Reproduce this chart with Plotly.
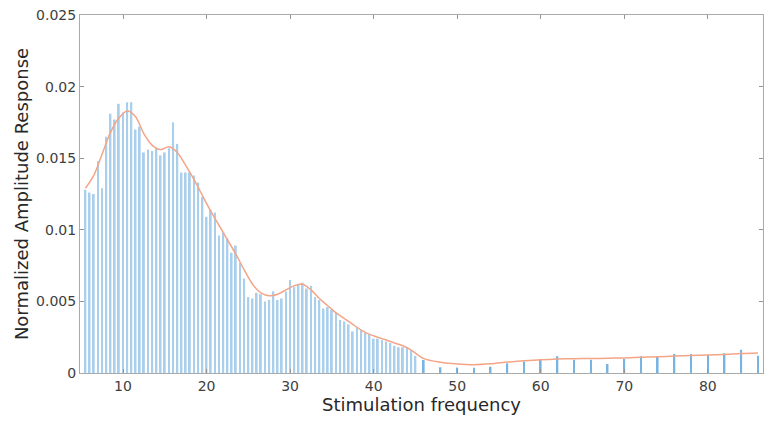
import plotly.graph_objects as go

# Dense bars: 5.5 .. 45 in 0.5 steps
dense_freq = [5.5 + 0.5 * i for i in range(80)]
dense_amp = [
    0.0128, 0.0126, 0.0125, 0.0148, 0.0129, 0.0165, 0.0181, 0.0177, 0.0188, 0.0182,
    0.0189, 0.0189, 0.0170, 0.0172, 0.0154, 0.0156, 0.0155, 0.0157, 0.0152, 0.0154,
    0.0157, 0.0175, 0.0160, 0.0140, 0.0140, 0.0140, 0.0138, 0.0133, 0.0123, 0.0109,
    0.0114, 0.0112, 0.0096, 0.0098, 0.0094, 0.0084, 0.0089, 0.0077, 0.0066, 0.0053,
    0.0052, 0.0056, 0.0055, 0.0050, 0.0051, 0.0057, 0.0051, 0.0052, 0.0057, 0.0065,
    0.0060, 0.0062, 0.0063, 0.0059, 0.0061, 0.0053, 0.0051, 0.0045, 0.0046, 0.0044,
    0.0042, 0.0037, 0.0036, 0.0034, 0.0029, 0.0032, 0.0030, 0.0028, 0.0027, 0.0024,
    0.0024, 0.0023, 0.0022, 0.0021, 0.0019, 0.0018, 0.0018, 0.0018, 0.0016, 0.0012,
]
# Sparse bars: 46 .. 86 in 2 steps
sparse_freq = [46 + 2 * i for i in range(21)]
sparse_amp = [
    0.00091, 0.00040, 0.00038, 0.00036, 0.00044, 0.00068, 0.00080, 0.00098, 0.00117, 0.00092,
    0.00092, 0.00063, 0.00098, 0.00117, 0.00117, 0.00133, 0.00133, 0.00128, 0.00138, 0.00162,
    0.00121,
]

# Smoothed fit curve
fit_freq = [5.5, 6.5, 7.5, 8.5, 9.5, 10.5, 11.5, 12.5, 13.5, 14.5, 15.5, 16.5, 17.5,
            18.5, 19.5, 20.5, 21.5, 22.5, 23.5, 24.5, 25.5, 26.5, 27.5, 28.5, 29.5,
            30.5, 31.5, 32.5, 33.5, 34.5, 35.5, 36.5, 37.5, 38.5, 39.5, 40.5, 41.5,
            42.5, 43.5, 44.5, 46, 48, 50, 52, 54, 56, 58, 60, 62, 64, 66, 68, 70, 72,
            74, 76, 78, 80, 82, 84, 86]
fit_amp = [0.0129, 0.0138, 0.0153, 0.0168, 0.0178, 0.0183, 0.0179, 0.0167, 0.0159,
           0.0156, 0.0158, 0.0154, 0.0145, 0.0135, 0.0124, 0.0113, 0.0103, 0.0093,
           0.0083, 0.0072, 0.0062, 0.0056, 0.0054, 0.0055, 0.0058, 0.0061, 0.0062,
           0.0058, 0.0052, 0.0047, 0.0042, 0.0038, 0.0034, 0.0030, 0.0027, 0.0025,
           0.0023, 0.0021, 0.0019, 0.0016, 0.0010, 0.00075, 0.00063, 0.00058, 0.00064,
           0.00076, 0.00086, 0.00092, 0.00097, 0.00100, 0.00101, 0.00103, 0.00105,
           0.00110, 0.00114, 0.00118, 0.00122, 0.00126, 0.00130, 0.00136, 0.00140]

x_ticks = [10, 20, 30, 40, 50, 60, 70, 80]
y_ticks = [0, 0.005, 0.01, 0.015, 0.02, 0.025]
y_tick_text = ["0", "0.005", "0.01", "0.015", "0.02", "0.025"]

dense_color = "rgb(170,207,236)"
sparse_color = "rgb(120,180,225)"

fig = go.Figure()
fig.add_trace(go.Bar(x=dense_freq, y=dense_amp, width=0.22,
                     marker=dict(color=dense_color, line=dict(width=0))))
fig.add_trace(go.Bar(x=sparse_freq, y=sparse_amp, width=0.2,
                     marker=dict(color=sparse_color, line=dict(width=0))))
fig.add_trace(go.Scatter(x=fit_freq, y=fit_amp, mode="lines",
                         line=dict(color="rgb(244,165,135)", width=1.5, shape="spline",
                                   smoothing=0.8)))

axis_common = dict(
    showline=True, linecolor="rgb(170,170,170)", linewidth=1,
    mirror="ticks", ticks="inside", ticklen=4, tickcolor="rgb(150,150,150)",
    showgrid=False, zeroline=False, automargin=False,
    tickfont=dict(family="DejaVu Sans", size=14, color="rgb(64,64,64)"),
)

fig.update_layout(
    width=766, height=421,
    margin=dict(l=80, r=3, t=15, b=48),
    paper_bgcolor="white", plot_bgcolor="white",
    showlegend=False, barmode="overlay",
    xaxis=dict(range=[4.85, 86.6], tickvals=x_ticks,
               title=dict(text="Stimulation frequency", standoff=4,
                          font=dict(family="DejaVu Sans", size=18, color="rgb(40,40,40)")),
               **axis_common),
    yaxis=dict(range=[0, 0.025], tickvals=y_ticks, ticktext=y_tick_text,
               title=dict(text="Normalized Amplitude Response", standoff=2,
                          font=dict(family="DejaVu Sans", size=18, color="rgb(40,40,40)")),
               **axis_common),
)

fig.write_html(
    "out.html",
    config={"displayModeBar": False},
    post_script="document.body.style.margin='0';document.body.style.overflow='hidden';",
)
